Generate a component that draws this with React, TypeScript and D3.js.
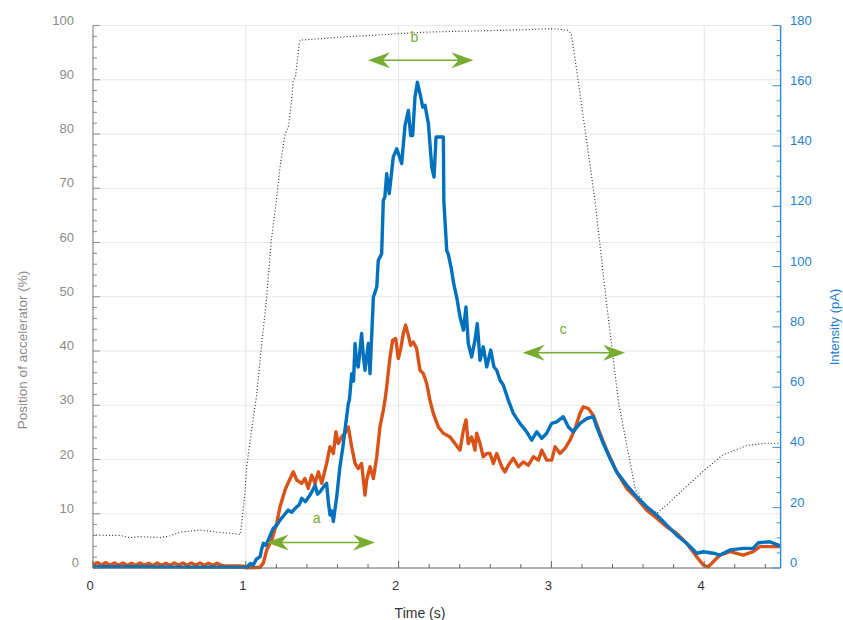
import React from "react";
import * as d3 from "d3";

// ---------- data ----------
// accelerator position (%), left axis
const accelData: [number, number][] = [
  [0, 6.1], [0.1, 6.0], [0.18, 6.0], [0.24, 5.6], [0.3, 5.8], [0.44, 5.6], [0.5, 5.9],
  [0.57, 6.6], [0.7, 7.0], [0.81, 6.6], [0.9, 6.4], [0.965, 6.2], [0.975, 8.8], [0.99, 12.5],
  [1.006, 18.6], [1.02, 21.7], [1.04, 26], [1.07, 31.6], [1.1, 40.2], [1.135, 49.4],
  [1.167, 60.4], [1.2, 67.8], [1.224, 73.9], [1.257, 80], [1.278, 81.3], [1.3, 86.2],
  [1.31, 89.9], [1.325, 90.5], [1.35, 96.7], [1.355, 97.3], [1.5, 97.6], [1.7, 98],
  [1.9, 98.3], [1.99, 98.5], [2.2, 98.8], [2.5, 99], [2.8, 99.2], [2.99, 99.4],
  [3.05, 99.3], [3.11, 99.1], [3.13, 98.5], [3.175, 89.9], [3.23, 78.8], [3.285, 67.8],
  [3.36, 49], [3.44, 30.4], [3.55, 14.4], [3.62, 11.5], [3.69, 10.1], [3.77, 12],
  [3.86, 14.4], [4.0, 18.0], [4.12, 20.8], [4.28, 22.6], [4.4, 23.0], [4.5, 23.0],
];

// intensity (pA), right axis - orange series
const redData: [number, number][] = [
  [0, 1.0], [0.028, 1.8], [0.056, 1.0], [0.084, 1.8], [0.112, 0.9], [0.14, 1.7], [0.168, 0.9],
  [0.196, 1.7], [0.224, 0.9], [0.252, 1.6], [0.28, 0.9], [0.308, 1.7], [0.336, 0.9],
  [0.364, 1.6], [0.392, 0.8], [0.42, 1.7], [0.448, 0.9], [0.476, 1.6], [0.504, 0.9],
  [0.532, 1.7], [0.56, 0.9], [0.588, 1.7], [0.616, 0.9], [0.644, 1.7], [0.672, 0.9],
  [0.7, 1.7], [0.728, 0.9], [0.756, 1.6], [0.784, 0.9], [0.812, 1.6], [0.84, 0.9],
  [0.86, 0.8], [0.95, 0.7], [0.99, 0.6], [1.0, 0.1], [1.093, 0.2], [1.115, 1.7],
  [1.137, 6], [1.17, 9.3], [1.202, 14.8], [1.224, 20.3], [1.257, 25.9], [1.29, 29.7],
  [1.311, 31.9], [1.333, 29.2], [1.366, 28.1], [1.387, 29.7], [1.409, 26.4], [1.431, 30.8],
  [1.453, 28.1], [1.475, 31.9], [1.497, 28.1], [1.529, 34.7], [1.551, 40.2], [1.573, 38],
  [1.59, 45.2], [1.605, 41.3], [1.627, 43.5], [1.649, 44.7], [1.671, 46.8], [1.693, 40.2],
  [1.715, 34.7], [1.736, 33], [1.758, 34.7], [1.78, 24.2], [1.791, 29.2], [1.813, 33.6],
  [1.835, 29.7], [1.857, 36.9], [1.878, 46.8], [1.9, 52.4], [1.911, 55.7], [1.922, 60.1],
  [1.944, 70], [1.961, 75.6], [1.981, 76.1], [1.998, 69.5], [2.014, 72.8], [2.031, 77.8],
  [2.046, 80.6], [2.064, 77.2], [2.079, 73.9], [2.096, 75], [2.118, 72.8], [2.14, 65.6],
  [2.162, 64.5], [2.184, 61.2], [2.205, 55.7], [2.227, 51.3], [2.26, 46.8], [2.293, 44.7],
  [2.336, 43.5], [2.369, 41.3], [2.402, 39.1], [2.424, 45.7], [2.441, 49.1], [2.456, 41.3],
  [2.478, 43.5], [2.5, 39.1], [2.511, 44.7], [2.533, 41.3], [2.554, 36.9], [2.577, 38],
  [2.598, 38], [2.62, 34.7], [2.642, 38], [2.675, 33.6], [2.696, 31.9], [2.718, 34.1],
  [2.751, 36.4], [2.784, 33.6], [2.816, 35.2], [2.849, 34.1], [2.882, 36.9], [2.915, 35.8],
  [2.937, 39.1], [2.969, 35.8], [3.002, 35.8], [3.024, 40.2], [3.056, 38], [3.089, 39.7],
  [3.122, 42.4], [3.155, 46.3], [3.187, 51.3], [3.209, 53.5], [3.242, 52.9], [3.274, 50.7],
  [3.318, 44.7], [3.362, 39.1], [3.427, 31.9], [3.493, 26.4], [3.558, 23.1], [3.624, 19.2],
  [3.689, 16.5], [3.754, 13.7], [3.82, 11.5], [3.885, 8.2], [3.951, 3.7], [3.994, 1],
  [4.027, 0.4], [4.06, 2.1], [4.103, 4.3], [4.169, 5.4], [4.256, 4.3], [4.32, 5.4],
  [4.365, 7.1], [4.5, 7.1],
];

// intensity (pA), right axis - blue series
const blueData: [number, number][] = [
  [0, 0.4], [0.3, 0.4], [0.6, 0.3], [0.9, 0.3], [1.0, 0.2], [1.006, 0.3], [1.03, 1.5],
  [1.049, 1], [1.07, 3], [1.093, 3.7], [1.105, 6.5], [1.115, 8.2], [1.13, 7.5], [1.147, 9.3],
  [1.165, 11.5], [1.18, 13.2], [1.2, 14], [1.224, 15.9], [1.25, 17.5], [1.278, 19.2],
  [1.3, 18.5], [1.333, 20.3], [1.35, 21], [1.366, 23.1], [1.39, 22], [1.42, 24.2],
  [1.44, 26], [1.453, 27.5], [1.47, 24.5], [1.486, 25.3], [1.51, 27], [1.529, 28.1],
  [1.54, 22], [1.551, 17.6], [1.562, 19], [1.573, 15.4], [1.585, 20], [1.595, 23.6],
  [1.616, 33.6], [1.635, 40], [1.649, 45.7], [1.671, 54.6], [1.678, 55.7], [1.693, 64.5],
  [1.705, 62], [1.715, 74.5], [1.725, 68], [1.736, 66.7], [1.758, 77.8], [1.77, 70],
  [1.78, 65.6], [1.802, 74.5], [1.813, 64.5], [1.835, 89.9], [1.857, 93.2], [1.867, 102],
  [1.889, 104.3], [1.9, 122], [1.91, 123], [1.922, 130.8], [1.939, 124.2], [1.965, 136.3],
  [1.988, 139.1], [2.02, 134.2], [2.042, 146.8], [2.064, 151.8], [2.079, 143.5],
  [2.092, 143.5], [2.107, 156.2], [2.123, 161.2], [2.145, 156.2], [2.158, 152.9],
  [2.173, 153.5], [2.195, 147.4], [2.217, 133], [2.232, 129.7], [2.245, 143], [2.293, 143],
  [2.296, 122], [2.315, 105.4], [2.326, 104], [2.347, 98.8], [2.36, 94.5], [2.38, 89.9],
  [2.402, 83.3], [2.424, 78.9], [2.441, 86.6], [2.456, 74.5], [2.478, 70], [2.5, 75.6],
  [2.515, 81.1], [2.533, 68.9], [2.554, 73.4], [2.577, 66.7], [2.603, 72.3], [2.624, 66.7],
  [2.642, 65.6], [2.664, 62.3], [2.685, 60.7], [2.718, 55.7], [2.751, 51.3], [2.794, 48],
  [2.838, 45.2], [2.871, 42.4], [2.904, 45.2], [2.937, 43], [2.969, 44.7], [3.002, 48],
  [3.035, 48.5], [3.078, 50.2], [3.111, 46.8], [3.143, 45.2], [3.187, 48], [3.231, 49.6],
  [3.274, 50.2], [3.296, 46.8], [3.34, 41.3], [3.383, 36.4], [3.427, 31.9], [3.493, 27.5],
  [3.558, 23.6], [3.624, 20.3], [3.689, 17.6], [3.754, 14.3], [3.82, 10.9], [3.885, 8.2],
  [3.951, 4.9], [3.994, 5.4], [4.06, 4.9], [4.103, 4.3], [4.169, 6], [4.256, 6.5],
  [4.32, 6.5], [4.355, 8.4], [4.43, 8.7], [4.485, 7.6], [4.5, 7.2],
];

// annotation arrows (left-axis units)
const arrowLabels = ["a", "b", "c"];
const arrowX0 = [1.137, 1.8, 2.812];
const arrowX1 = [1.846, 2.49, 3.482];
const arrowY = [4.7, 93.6, 39.7];
const labelX = [1.464, 2.103, 3.078];
const labelY = [9.2, 97.8, 44.1];

const xTicks = [0, 1, 2, 3, 4];
const leftTicks = [0, 10, 20, 30, 40, 50, 60, 70, 80, 90, 100];
const rightTicks = [0, 20, 40, 60, 80, 100, 120, 140, 160, 180];

// ---------- layout ----------
const W = 843;
const H = 620;
const FONT = "'Liberation Sans', Arial, Helvetica, sans-serif";
const BLUE = "#0072BD";
const RED = "#D95319";
const GREEN = "#77AC30";
const GRAY = "#8a8a8a";

export default function App() {
  const x = d3.scaleLinear().domain([0, 4.5]).range([93, 780.6]);
  const yL = d3.scaleLinear().domain([0, 100]).range([568, 25.5]);
  const yR = d3.scaleLinear().domain([0, 180]).range([568, 25.5]);

  const lineL = d3.line<[number, number]>().x((d) => x(d[0])).y((d) => yL(d[1]));
  const lineR = d3.line<[number, number]>().x((d) => x(d[0])).y((d) => yR(d[1]));

  const xMinor = d3.range(0, 4.5001, 0.2);
  const lMinor = d3.range(0, 100.001, 2);
  const rMinor = d3.range(0, 180.001, 5);

  const x0 = x(0);
  const x1 = x(4.5);
  const yb = yL(0);
  const yt = yL(100);

  const arrowHead = (tx: number, ty: number, dir: number) => {
    const L = 22;
    const Wd = 8;
    return `M${tx},${ty} L${tx + dir * L},${ty - Wd} L${tx + dir * L * 0.68},${ty} L${tx + dir * L},${ty + Wd} Z`;
  };

  return (
    <svg
      width={W}
      height={H}
      style={{ position: "absolute", left: 0, top: 0, background: "#fff" }}
      fontFamily={FONT}
    >
      {/* gridlines */}
      <g stroke="#e8e8e8" strokeWidth={1.2}>
        {leftTicks.slice(1).map((v) => (
          <line key={"gy" + v} x1={x0} x2={x1} y1={yL(v)} y2={yL(v)} />
        ))}
        {xTicks.slice(1).map((v) => (
          <line key={"gx" + v} x1={x(v)} x2={x(v)} y1={yb} y2={yt} />
        ))}
      </g>

      {/* accelerator dotted line */}
      <path
        d={lineL(accelData) || ""}
        fill="none"
        stroke="#333"
        strokeWidth={1.2}
        strokeDasharray="1 2.2"
      />

      {/* intensity lines */}
      <path
        d={lineR(redData) || ""}
        fill="none"
        stroke={RED}
        strokeWidth={3.4}
        strokeLinejoin="round"
      />
      <path
        d={lineR(blueData) || ""}
        fill="none"
        stroke={BLUE}
        strokeWidth={3.4}
        strokeLinejoin="round"
      />

      {/* arrows */}
      {arrowLabels.map((lab, i) => {
        const ax0 = x(arrowX0[i]);
        const ax1 = x(arrowX1[i]);
        const ay = yL(arrowY[i]);
        return (
          <g key={"ar" + lab}>
            <line x1={ax0 + 10} x2={ax1 - 10} y1={ay} y2={ay} stroke={GREEN} strokeWidth={1.5} />
            <path d={arrowHead(ax0, ay, 1)} fill={GREEN} />
            <path d={arrowHead(ax1, ay, -1)} fill={GREEN} />
            <text
              x={x(labelX[i])}
              y={yL(labelY[i])}
              fill={GREEN}
              fontSize={14}
              textAnchor="middle"
              dominantBaseline="central"
            >
              {lab}
            </text>
          </g>
        );
      })}

      {/* left axis */}
      <line x1={x0} x2={x0} y1={yb} y2={yt} stroke={GRAY} strokeWidth={1.2} />
      {lMinor.map((v) => (
        <line
          key={"lm" + v}
          x1={x0}
          x2={x0 + (v % 10 === 0 ? 7 : 4)}
          y1={yL(v)}
          y2={yL(v)}
          stroke={GRAY}
          strokeWidth={1}
        />
      ))}
      {leftTicks.map((v) => (
        <text
          key={"lt" + v}
          x={v === 0 ? 79 : 74}
          y={yL(v) - 5.5}
          fill={GRAY}
          fontSize={13}
          textAnchor="end"
          dominantBaseline="central"
        >
          {v}
        </text>
      ))}
      <text
        transform={`translate(22,350) rotate(-90)`}
        fill={GRAY}
        fontSize={13.5}
        textAnchor="middle"
        dominantBaseline="central"
      >
        Position of accelerator (%)
      </text>

      {/* bottom axis */}
      <line x1={x0} x2={x1} y1={yb} y2={yb} stroke="#666" strokeWidth={1.2} />
      {xMinor.map((v) => (
        <line
          key={"xm" + v.toFixed(1)}
          x1={x(v)}
          x2={x(v)}
          y1={yb}
          y2={yb - (Math.abs(v - Math.round(v)) < 1e-6 ? 7 : 4)}
          stroke="#666"
          strokeWidth={1}
        />
      ))}
      {xTicks.map((v) => (
        <text
          key={"xt" + v}
          x={x(v) - 3}
          y={585}
          fill="#333"
          fontSize={13}
          textAnchor="middle"
          dominantBaseline="central"
        >
          {v}
        </text>
      ))}
      <text x={420} y={613} fill="#333" fontSize={14} textAnchor="middle" dominantBaseline="central">
        Time (s)
      </text>

      {/* right axis */}
      <line x1={x1} x2={x1} y1={yb} y2={yt} stroke="#3a8fd2" strokeWidth={1.5} />
      {rMinor.map((v) => (
        <line
          key={"rm" + v}
          x1={x1}
          x2={x1 - (v % 20 === 0 ? 8 : 4)}
          y1={yR(v)}
          y2={yR(v)}
          stroke="#3a8fd2"
          strokeWidth={1}
        />
      ))}
      {rightTicks.map((v) => (
        <text
          key={"rt" + v}
          x={790}
          y={yR(v) - 5.5}
          fill="#1f7fcc"
          fontSize={13}
          textAnchor="start"
          dominantBaseline="central"
        >
          {v}
        </text>
      ))}
      <text
        transform={`translate(834,327) rotate(-90)`}
        fill="#1f7fcc"
        fontSize={13}
        textAnchor="middle"
        dominantBaseline="central"
      >
        Intensity (pA)
      </text>
    </svg>
  );
}
